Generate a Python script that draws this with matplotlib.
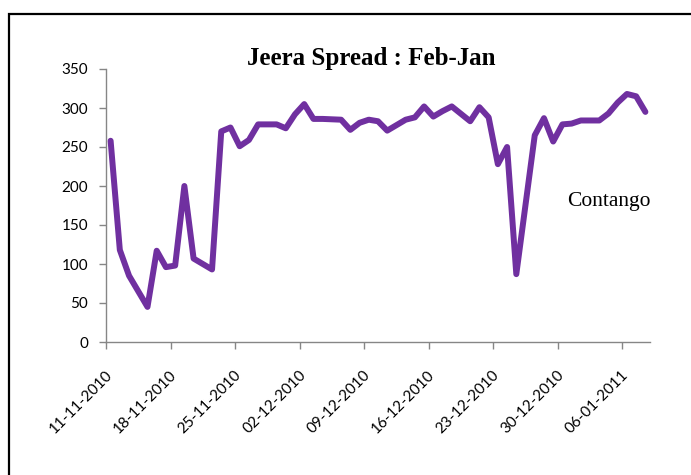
import matplotlib
matplotlib.use("Agg")
import matplotlib.pyplot as plt
import matplotlib.transforms as mtransforms
from matplotlib.patches import Rectangle
import pandas as pd

dates = ["11-11-2010", "12-11-2010", "13-11-2010", "15-11-2010", "16-11-2010",
         "17-11-2010", "18-11-2010", "19-11-2010", "20-11-2010", "22-11-2010",
         "23-11-2010", "24-11-2010", "25-11-2010", "26-11-2010", "27-11-2010",
         "29-11-2010", "30-11-2010", "01-12-2010", "02-12-2010", "03-12-2010",
         "04-12-2010", "06-12-2010", "07-12-2010", "08-12-2010", "09-12-2010",
         "10-12-2010", "11-12-2010", "13-12-2010", "14-12-2010", "15-12-2010",
         "16-12-2010", "17-12-2010", "18-12-2010", "20-12-2010", "21-12-2010",
         "22-12-2010", "23-12-2010", "24-12-2010", "25-12-2010", "27-12-2010",
         "28-12-2010", "29-12-2010", "30-12-2010", "31-12-2010", "01-01-2011",
         "03-01-2011", "04-01-2011", "05-01-2011", "06-01-2011", "07-01-2011",
         "08-01-2011"]
spread = [258, 118, 85, 45, 117,
          96, 98, 200, 107, 93,
          270, 275, 251, 259, 279,
          279, 274, 292, 305, 286,
          286, 285, 272, 281, 285,
          283, 271, 285, 288, 302,
          289, 296, 302, 283, 301,
          288, 228, 250, 87, 265,
          287, 257, 279, 280, 284,
          284, 293, 307, 318, 315,
          295]
tick_labels = ["11-11-2010", "18-11-2010", "25-11-2010", "02-12-2010", "09-12-2010",
               "16-12-2010", "23-12-2010", "30-12-2010", "06-01-2011"]
y_ticks = [0, 50, 100, 150, 200, 250, 300, 350]
title = "Jeera Spread : Feb-Jan"
note = "Contango"

W, H = 691, 475
fig = plt.figure(figsize=(W / 100, H / 100), dpi=100)
ax = fig.add_axes([106 / W, 1 - 342 / H, (650 - 106) / W, (342 - 69) / H])

x = pd.to_datetime(dates, format="%d-%m-%Y") + pd.Timedelta(hours=12)
ax.plot(x, spread, color="#7030A0", lw=4.3, solid_joinstyle="round",
        solid_capstyle="round", zorder=3)

tick_dates = pd.to_datetime(tick_labels, format="%d-%m-%Y")
ax.set_xlim(pd.Timestamp("2010-11-11"), pd.Timestamp("2011-01-09"))
ax.set_ylim(0, 350)
ax.set_yticks(y_ticks)
ax.set_xticks(tick_dates)
ax.set_xticklabels(tick_labels, rotation=45, ha="right", va="center",
                   rotation_mode="anchor", family="Lato", fontsize=11)
for lab in ax.get_yticklabels():
    lab.set_family("Lato")
    lab.set_fontsize(11)

for s in ["top", "right"]:
    ax.spines[s].set_visible(False)
for s in ["left", "bottom"]:
    ax.spines[s].set_color("#868686")
    ax.spines[s].set_linewidth(1.0)
ax.tick_params(axis="both", direction="out", length=5, color="#868686", width=1.0)
ax.tick_params(axis="y", pad=8)
ax.tick_params(axis="x", pad=17)

shift = mtransforms.ScaledTranslation(4 / 100, 0, fig.dpi_scale_trans)
for lab in ax.get_xticklabels():
    lab.set_transform(lab.get_transform() + shift)

fig.text(371 / W, 1 - 59 / H, title, ha="center", va="center",
         family="Liberation Serif", fontweight="bold", fontsize=18)
fig.text(609 / W, 1 - 201 / H, note, ha="center", va="center",
         family="Liberation Serif", fontsize=15.5)

fig.patches.append(Rectangle((9 / W, -0.2), 1.2, 1.2 - 14 / H,
                             transform=fig.transFigure, fill=False,
                             edgecolor="black", lw=1.6, zorder=10))

fig.savefig("out.png", dpi=100)
